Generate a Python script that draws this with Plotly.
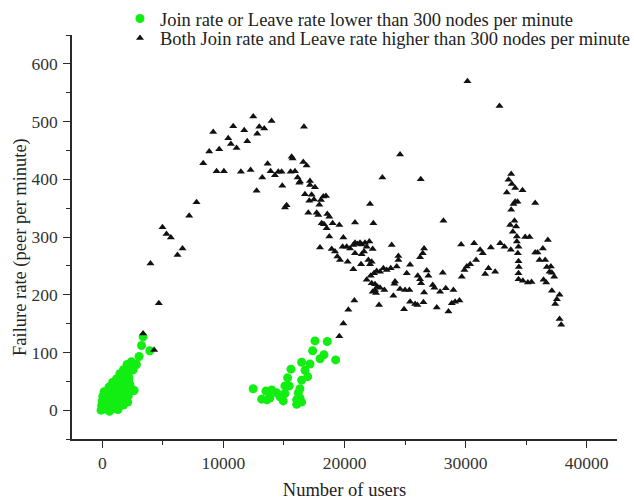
import plotly.graph_objects as go

# ---- data ----
green_x = [-100, 250, 600, 950, 1300,
           -50, 300, 650, 1000, 1350, 1750,
           0, 350, 700, 1050, 1400, 1750, 2100,
           50, 400, 750, 1100, 1450, 1800, 2150,
           150, 500, 850, 1200, 1550, 1900, 2300, 2630,
           550, 900, 1250, 1600, 1950, 2350,
           850, 1200, 1550, 1900, 2250,
           1170, 1500, 1850, 2200,
           1450, 1800, 2150,
           1750, 2100, 2550,
           2050, 2820,
           2410, 3040, 3240, 3370, 3925,
           12460, 13160, 13510, 13600, 13840, 13980, 14400, 14670, 14940, 15080,
           15080, 15300, 15440, 15580, 16050, 16050, 16180, 16320, 16320, 16460,
           16460, 16460, 16740, 16960, 17150, 17370, 17560, 17980, 18300, 18580, 19270]
green_y = [0, 2, -2, 3, 1,
           8, 9, 7, 10, 8, 9,
           16, 17, 15, 16, 18, 15, 14,
           24, 25, 23, 24, 26, 22, 25,
           32, 33, 31, 33, 32, 30, 33, 34,
           40, 41, 39, 42, 40, 39,
           48, 47, 49, 48, 46,
           54, 56, 57, 55,
           63, 64, 61,
           70, 72, 70,
           79, 79,
           84, 93, 112, 127, 103,
           37, 19, 33, 18, 21, 35, 30, 23, 16, 42,
           29, 56, 42, 71, 18, 10, 30, 37, 21, 83,
           52, 14, 69, 58, 80, 103, 120, 89, 96, 119, 87]

black_x = [3370, 4280, 4669, 3981, 4972, 5303, 5661, 6212, 6625, 7176, 7783,
           8334, 8829, 9160, 9436, 9656, 10042, 10400, 10620, 10813, 11089,
           11447, 11722, 11970, 12246, 12466, 12742, 12797, 12962, 13210, 13375,
           13650, 13899, 13981, 14257, 14532, 14808, 14863, 15083, 15221, 15551,
           15634, 15717, 15910, 16130, 16268,
           16322, 16598, 16873, 16653, 17149, 17149, 17562, 16735, 17286, 17093,
           17479, 18058, 18251, 18471, 17920, 17011, 17700, 17837, 18581, 18746,
           18113, 18306, 19022, 19573, 18526, 18746, 19904, 17975, 18939, 19215,
           19408, 19628, 19848, 20179, 20455, 20730, 20868, 21061, 21281, 21419,
           21694, 22052, 22328, 21832, 20868, 21419, 21612, 20262, 20730, 21364,
           21970, 22108, 22245, 23898, 24449, 24449, 24312, 23816, 23485, 23210,
           22934, 22659, 22438, 22163, 21832, 22245, 22521, 22714, 22934, 22521,
           22328, 22603, 23292, 24174, 24119, 24587, 25000, 25360, 25138, 25414,
           26047, 26240, 26791, 26929, 26571, 26460, 26240, 24036, 22851, 24918,
           25414, 25827, 26020, 26516, 26323, 26571, 27287, 27425, 27893, 28361,
           28995, 28113, 28582, 27618, 28857, 29133, 29491, 29684, 29904, 30097,
           30373, 29629, 30703, 31199, 30868, 31419, 31888, 31613, 32439, 32081,
           32852, 33210, 33734, 34367, 34312, 33761, 33541, 33816, 34092, 34698,
           33403, 35745, 34092, 34285, 33954, 33761, 33679, 34036, 34174, 33898,
           34230, 34230, 34919, 35276, 36792, 34367, 34395, 34367, 34367, 34726,
           35139, 35442, 35745, 35938, 36378, 36103, 36571, 36709, 37040, 37123,
           37315, 36929, 36433, 36654, 37123, 37756, 37536, 37398, 37756, 37894,
           20813, 20317, 19904, 19573, 24587, 23127, 26295, 22108, 28169, 22383,
           20868, 30152, 32797]
black_y = [133, 104, 185, 254, 317, 305, 299, 269, 280, 337, 360,
           428, 448, 482, 414, 452, 414, 471, 461, 492, 454,
           413, 485, 466, 416, 509, 380, 479, 491, 403, 488,
           427, 414, 501, 407, 413, 413, 389, 351, 355, 413,
           439, 436, 414, 403, 394,
           396, 430, 424, 491, 397, 390, 386, 374, 373, 363,
           365, 364, 370, 371, 356, 342, 342, 338, 340, 335,
           324, 322, 324, 321, 315, 301, 299, 282, 279, 275,
           266, 260, 283, 283, 280, 286, 290, 288, 290, 287,
           290, 292, 279, 283, 272, 270, 275, 257, 244, 253,
           260, 253, 257, 286, 267, 260, 249, 246, 243, 246,
           240, 241, 237, 233, 226, 220, 218, 214, 212, 208,
           205, 203, 208, 223, 219, 210, 208, 208, 237, 252,
           233, 227, 242, 233, 280, 272, 265, 198, 182, 175,
           188, 184, 182, 187, 220, 204, 217, 212, 205, 211,
           208, 238, 171, 178, 185, 188, 190, 231, 243, 249,
           253, 287, 289, 278, 260, 272, 246, 236, 240, 282,
           289, 283, 278, 283, 272, 409, 399, 392, 385, 381,
           377, 359, 361, 361, 357, 347, 321, 328, 318, 309,
           301, 292, 300, 300, 295, 258, 248, 237, 227, 224,
           221, 222, 273, 273, 280, 260, 260, 248, 249, 238,
           231, 240, 226, 221, 207, 200, 192, 184, 158, 148,
           190, 174, 150, 128, 443, 403, 400, 357, 328, 324,
           325, 570, 527]

green_name = "Join rate or Leave rate lower than 300 nodes per minute"
black_name = "Both Join rate and Leave rate higher than 300 nodes per minute"
x_title = "Number of users"
y_title = "Failure rate (peer per minute)"

x_ticks = [0, 10000, 20000, 30000, 40000]
y_ticks = [0, 100, 200, 300, 400, 500, 600]

FONT = "Liberation Serif"
AX = "#2a2a2a"

fig = go.Figure()
fig.add_trace(go.Scatter(x=green_x, y=green_y, mode="markers", name=green_name,
                         legend="legend",
                         marker=dict(symbol="circle", size=9, color="#12ee12",
                                     line=dict(width=0))))
fig.add_trace(go.Scatter(x=black_x, y=black_y, mode="markers", name=black_name,
                         legend="legend2",
                         marker=dict(symbol="triangle-up", size=7, color="#111111",
                                     line=dict(width=0))))

axis_common = dict(showline=True, linecolor=AX, linewidth=1.6, mirror=False,
                   showgrid=False, zeroline=False, ticks="outside", ticklen=7,
                   tickwidth=1.4, tickcolor=AX,
                   tickfont=dict(family=FONT, size=17.5, color="#333333"),
                   title_font=dict(family=FONT, size=18.5, color="#222222"))

fig.update_xaxes(range=[-2500, 42500], tickvals=x_ticks,
                 ticktext=[str(v) for v in x_ticks],
                 minor=dict(ticks="outside", ticklen=4, dtick=5000, tick0=0,
                            tickcolor=AX, tickwidth=1.4),
                 ticklabelstandoff=0,
                 title_text=x_title, title_standoff=16, **axis_common)
fig.update_yaxes(range=[-50, 650], tickvals=y_ticks,
                 ticktext=[str(v) for v in y_ticks],
                 minor=dict(ticks="outside", ticklen=4, dtick=50, tick0=0,
                            tickcolor=AX, tickwidth=1.4),
                 ticklabelstandoff=2,
                 **axis_common)

fig.add_annotation(text=y_title, textangle=-90, xref="paper", yref="paper",
                   x=(20 - 72) / 545, y=(439 - 247) / 404,
                   xanchor="center", yanchor="middle", showarrow=False,
                   font=dict(family=FONT, size=18.5, color="#222222"))

legend_common = dict(xref="container", yref="container", xanchor="left",
                     yanchor="top", bgcolor="rgba(0,0,0,0)", itemwidth=30,
                     font=dict(family=FONT, size=18.5, color="#222222"))

fig.update_layout(width=634, height=500,
                  margin=dict(l=72, r=17, t=35, b=61, autoexpand=False),
                  plot_bgcolor="white", paper_bgcolor="white",
                  font=dict(family=FONT, size=17, color="#222222"),
                  showlegend=True,
                  legend=dict(x=120 / 634, y=1.0, **legend_common),
                  legend2=dict(x=120 / 634, y=1 - 19.5 / 500, **legend_common))

fig.write_html("out.html")
